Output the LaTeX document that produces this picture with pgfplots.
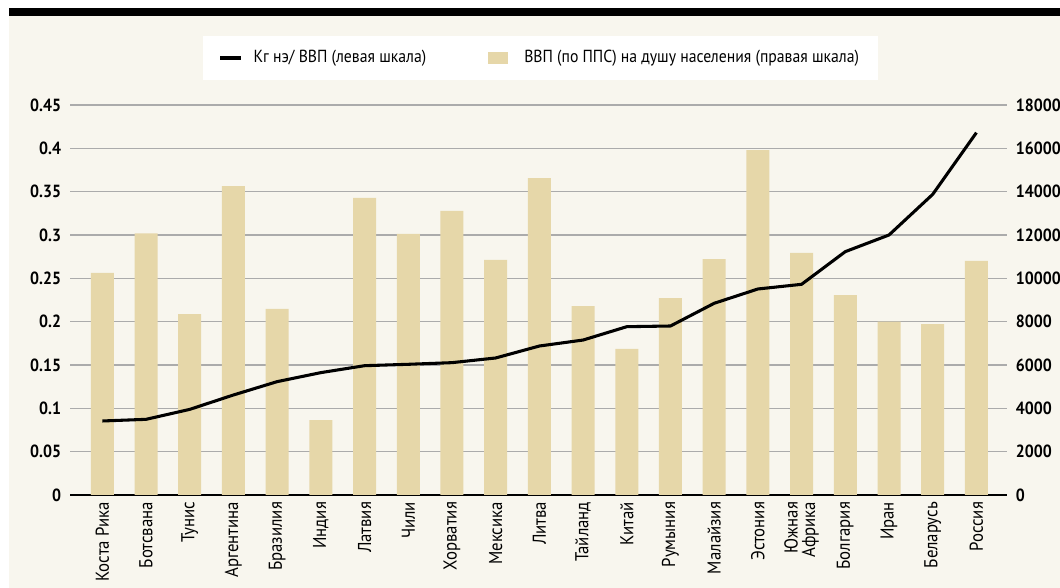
\documentclass[border=0pt]{standalone}
\usepackage{fontspec}
\setmainfont{PT Sans}[FakeStretch=0.9]
\usepackage{pgfplots}
\pgfplotsset{compat=1.18}
\definecolor{bgc}{HTML}{F8F6EE}
\definecolor{barc}{HTML}{E6D7A9}
\definecolor{gridc}{HTML}{ABABAB}

\pgfplotstableread{
x gdp
0 10250
1 12080
2 8350
3 14260
4 8590
5 3460
6 13710
7 12050
8 13110
9 10850
10 14630
11 8720
12 6740
13 9090
14 10890
15 15920
16 11170
17 9230
18 8000
19 7890
20 10800
}\gdptable

\pgfplotstableread{
x kg
0 0.0854
1 0.0873
2 0.0988
3 0.1154
4 0.1308
5 0.1412
6 0.1492
7 0.1508
8 0.1527
9 0.1581
10 0.1719
11 0.1788
12 0.1942
13 0.1950
14 0.2212
15 0.2377
16 0.2431
17 0.2808
18 0.3000
19 0.3469
20 0.4181
}\kgtable

\begin{document}
\begin{tikzpicture}
% page and frame
\useasboundingbox (0,0) rectangle (795pt,441pt);
\fill[white] (0,0) rectangle (795pt,441pt);
\fill[bgc] (6.75pt,0) rectangle (795pt,429pt);
\fill[black] (6.75pt,429pt) rectangle (795pt,435pt);

% legend
\fill[white] (152.25pt,381pt) rectangle (658.5pt,414pt);
\draw[black, line width=2.6pt] (165pt,397.5pt) -- (180.75pt,397.5pt);
\node[anchor=west, inner sep=0pt, font=\fontsize{13.1}{14}\selectfont] at (190pt,397.5pt) {Кг нэ/ ВВП (левая шкала)};
\fill[barc] (366pt,393pt) rectangle (381pt,402pt);
\node[anchor=west, inner sep=0pt, font=\fontsize{13.1}{14}\selectfont] at (393pt,397.5pt) {ВВП (по ППС) на душу населения (правая шкала)};

% bars, right scale
\begin{axis}[
    at={(52.5pt,69.75pt)}, anchor=south west,
    scale only axis, width=702.75pt, height=292.5pt,
    xmin=-0.74, xmax=20.7, ymin=0, ymax=18000,
    axis y line*=right, axis x line*=bottom,
    y axis line style={draw=none},
    x axis line style={black, line width=1.1pt},
    major tick length=0pt,
    ytick={0,2000,...,18000},
    ymajorgrids, grid style={gridc, line width=0.9pt},
    scaled y ticks=false,
    /pgf/number format/assume math mode=true,
    /pgf/number format/1000 sep={},
    yticklabel style={font=\bfseries\fontsize{13.2}{15}\selectfont, inner sep=0pt},
    yticklabel shift=6.5pt,
    xtick={0,...,20},
    xticklabels={Коста Рика, Ботсвана, Тунис, Аргентина, Бразилия, Индия, Латвия, Чили, Хорватия, Мексика, Литва, Тайланд, Китай, Румыния, Малайзия, Эстония, {Южная\\Африка}, Болгария, Иран, Беларусь, Россия},
    xticklabel style={rotate=90, anchor=east, align=right, inner sep=0pt, font=\fontsize{14}{13}\selectfont},
    xticklabel shift=5pt,
]
\addplot[ybar, bar width=17.25pt, fill=barc, draw=none] table[x=x, y=gdp] {\gdptable};
\end{axis}

% line, left scale
\begin{axis}[
    at={(52.5pt,69.75pt)}, anchor=south west,
    scale only axis, width=702.75pt, height=292.5pt,
    xmin=-0.74, xmax=20.7, ymin=0, ymax=0.45,
    axis y line*=left, axis x line=none,
    y axis line style={draw=none},
    major tick length=0pt,
    xtick=\empty,
    ytick={0,0.05,0.1,0.15,0.2,0.25,0.3,0.35,0.4,0.45},
    /pgf/number format/assume math mode=true,
    /pgf/number format/fixed,
    /pgf/number format/precision=2,
    yticklabel style={font=\bfseries\fontsize{13.2}{15}\selectfont, inner sep=0pt},
    yticklabel shift=6.5pt,
]
\addplot[black, line width=2.3pt, line join=round] table[x=x, y=kg] {\kgtable};
\end{axis}
\end{tikzpicture}
\end{document}
